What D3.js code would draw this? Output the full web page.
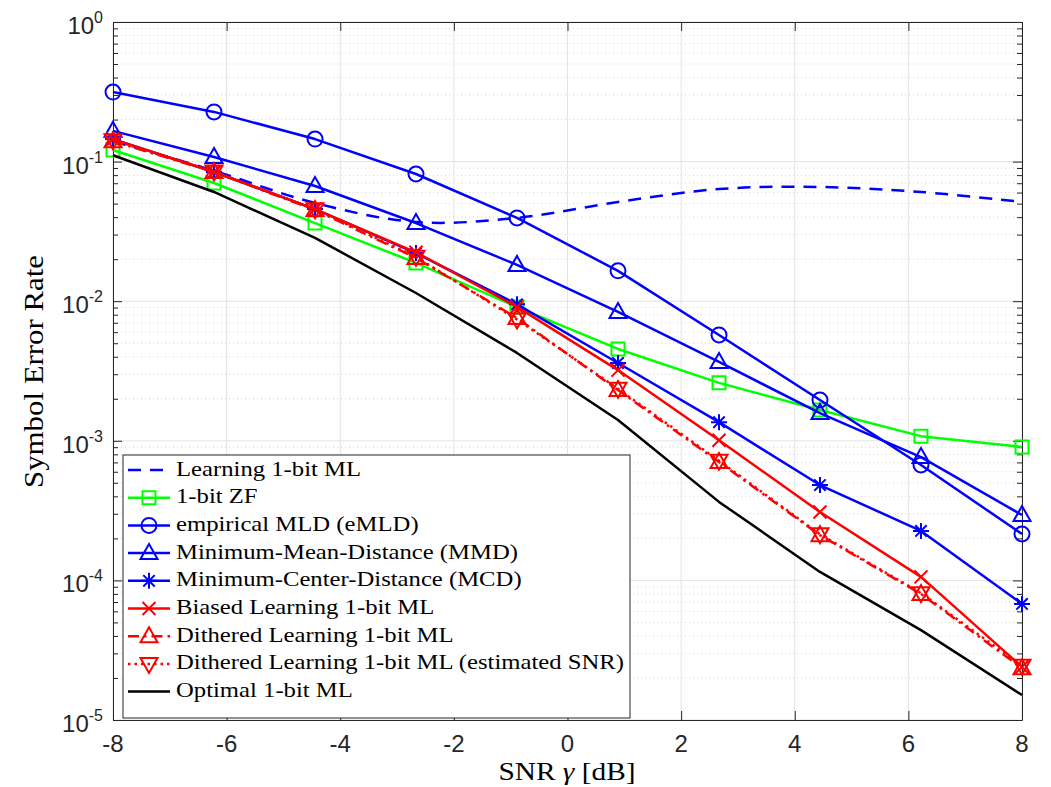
<!DOCTYPE html>
<html>
<head>
<meta charset="utf-8">
<script src="https://cdn.jsdelivr.net/npm/d3@7"></script>
<style>
  html, body { margin: 0; padding: 0; background: #fff; }
  svg { display: block; }
</style>
</head>
<body>
<div id="chart"></div>
<script>
// Data
const snrDb = [-8, -6.222, -4.444, -2.667, -0.889, 0.889, 2.667, 4.444, 6.222, 8];

const learningML  = [0.140, 0.086, 0.0505, 0.0369, 0.0395, 0.0514, 0.0636, 0.0658, 0.0606, 0.0514];
const zf          = [0.121, 0.0703, 0.0363, 0.0188, 0.00908, 0.00455, 0.00260, 0.00166, 0.00108, 0.000903];
const emld        = [0.315, 0.227, 0.145, 0.0815, 0.0395, 0.0165, 0.00573, 0.00196, 0.000671, 0.000215];
const mmd         = [0.166, 0.108, 0.0669, 0.0363, 0.0182, 0.00837, 0.00367, 0.00158, 0.000765, 0.000294];
const mcd         = [0.145, 0.0843, 0.0457, 0.0221, 0.00950, 0.00361, 0.00136, 0.000482, 0.000226, 0.0000678];
const biased      = [0.145, 0.0843, 0.0457, 0.0224, 0.0091, 0.00321, 0.00101, 0.000309, 0.000106, 0.0000240];
const dithered    = [0.140, 0.0843, 0.0450, 0.0204, 0.00758, 0.00231, 0.000705, 0.000211, 0.0000800, 0.0000235];
const ditheredEst = [0.142, 0.0850, 0.0455, 0.0208, 0.00740, 0.00236, 0.000720, 0.000214, 0.0000810, 0.0000245];
const optimal     = [0.111, 0.0606, 0.0284, 0.01145, 0.00426, 0.00141, 0.000365, 0.000115, 0.0000440, 0.0000151];

const xTicks = [-8, -6, -4, -2, 0, 2, 4, 6, 8];
const yTicks = [1e-5, 1e-4, 1e-3, 1e-2, 1e-1, 1];

const series = [
  { name: 'Learning 1-bit ML', values: learningML, color: '#0000ff', dash: '13,9', marker: null, smooth: true },
  { name: '1-bit ZF', values: zf, color: '#00ff00', dash: null, marker: 'square' },
  { name: 'empirical MLD (eMLD)', values: emld, color: '#0000ff', dash: null, marker: 'circle' },
  { name: 'Minimum-Mean-Distance (MMD)', values: mmd, color: '#0000ff', dash: null, marker: 'triUp' },
  { name: 'Minimum-Center-Distance (MCD)', values: mcd, color: '#0000ff', dash: null, marker: 'star' },
  { name: 'Biased Learning 1-bit ML', values: biased, color: '#ff0000', dash: null, marker: 'cross' },
  { name: 'Dithered Learning 1-bit ML', values: dithered, color: '#ff0000', dash: '11,5,2.5,5', marker: 'triUp' },
  { name: 'Dithered Learning 1-bit ML (estimated SNR)', values: ditheredEst, color: '#ff0000', dash: '2.5,4', marker: 'triDown' },
  { name: 'Optimal 1-bit ML', values: optimal, color: '#000000', dash: null, marker: null }
];

// Layout
const W = 1051, H = 787;
const PLOT = { left: 113, right: 1022, top: 22, bottom: 720 };
const AXIS_COLOR = '#262626';
const SANS = '"Liberation Sans", Arial, Helvetica, sans-serif';
const SERIF = '"Liberation Serif", "Times New Roman", serif';

const svg = d3.select('#chart').append('svg')
  .attr('width', W)
  .attr('height', H);

const x = d3.scaleLinear().domain([-8, 8]).range([PLOT.left, PLOT.right]);
const y = d3.scaleLog().domain([1e-5, 1]).range([PLOT.bottom, PLOT.top]);

// Minor tick values (2..9 per decade)
const minorTicks = [];
for (let e = -5; e < 0; e++) {
  for (let m = 2; m <= 9; m++) minorTicks.push(m * Math.pow(10, e));
}

// Grid
const grid = svg.append('g');
grid.selectAll('.ymin')
  .data(minorTicks)
  .enter().append('line')
  .attr('x1', PLOT.left).attr('x2', PLOT.right)
  .attr('y1', d => y(d)).attr('y2', d => y(d))
  .attr('stroke', '#c8c8c8')
  .attr('stroke-width', 0.8)
  .attr('stroke-dasharray', '1,3');
grid.selectAll('.xmaj')
  .data(xTicks)
  .enter().append('line')
  .attr('x1', d => x(d)).attr('x2', d => x(d))
  .attr('y1', PLOT.top).attr('y2', PLOT.bottom)
  .attr('stroke', '#e3e3e3')
  .attr('stroke-width', 1);
grid.selectAll('.ymaj')
  .data(yTicks)
  .enter().append('line')
  .attr('x1', PLOT.left).attr('x2', PLOT.right)
  .attr('y1', d => y(d)).attr('y2', d => y(d))
  .attr('stroke', '#e3e3e3')
  .attr('stroke-width', 1);

// Axes: d3 axes with inward ticks on all four sides
const fmtNone = () => '';
const axB = svg.append('g').attr('transform', `translate(0,${PLOT.bottom})`)
  .call(d3.axisBottom(x).tickValues(xTicks).tickSizeInner(-9).tickSizeOuter(0).tickFormat(fmtNone));
const axT = svg.append('g').attr('transform', `translate(0,${PLOT.top})`)
  .call(d3.axisTop(x).tickValues(xTicks).tickSizeInner(-9).tickSizeOuter(0).tickFormat(fmtNone));
const axL = svg.append('g').attr('transform', `translate(${PLOT.left},0)`)
  .call(d3.axisLeft(y).tickValues(yTicks).tickSizeInner(-9).tickSizeOuter(0).tickFormat(fmtNone));
const axR = svg.append('g').attr('transform', `translate(${PLOT.right},0)`)
  .call(d3.axisRight(y).tickValues(yTicks).tickSizeInner(-9).tickSizeOuter(0).tickFormat(fmtNone));
const axLm = svg.append('g').attr('transform', `translate(${PLOT.left},0)`)
  .call(d3.axisLeft(y).tickValues(minorTicks).tickSizeInner(-5).tickSizeOuter(0).tickFormat(fmtNone));
const axRm = svg.append('g').attr('transform', `translate(${PLOT.right},0)`)
  .call(d3.axisRight(y).tickValues(minorTicks).tickSizeInner(-5).tickSizeOuter(0).tickFormat(fmtNone));

[axB, axT, axL, axR, axLm, axRm].forEach(a => {
  a.selectAll('path').attr('stroke', AXIS_COLOR).attr('stroke-width', 1);
  a.selectAll('line').attr('stroke', AXIS_COLOR).attr('stroke-width', 1);
});
axLm.select('path').remove();
axRm.select('path').remove();

// Tick labels
svg.selectAll('.xlab')
  .data(xTicks)
  .enter().append('text')
  .attr('x', d => x(d))
  .attr('y', 752)
  .attr('text-anchor', 'middle')
  .attr('font-family', SANS)
  .attr('font-size', 24)
  .attr('fill', AXIS_COLOR)
  .text(d => d);

const ylab = svg.selectAll('.ylab')
  .data(yTicks)
  .enter().append('text')
  .attr('x', PLOT.left - 10)
  .attr('y', d => y(d) + 12)
  .attr('text-anchor', 'end')
  .attr('font-family', SANS)
  .attr('font-size', 24)
  .attr('fill', AXIS_COLOR);
ylab.append('tspan').text('10');
ylab.append('tspan')
  .attr('dy', -11)
  .attr('font-size', 16)
  .text(d => Math.round(Math.log10(d)));

// Axis titles
const xTitle = svg.append('text')
  .attr('x', 567)
  .attr('y', 780)
  .attr('text-anchor', 'middle')
  .attr('font-family', SERIF)
  .attr('font-size', 26)
  .attr('textLength', 137)
  .attr('lengthAdjust', 'spacingAndGlyphs')
  .attr('fill', '#000');
xTitle.append('tspan').text('SNR ');
xTitle.append('tspan').attr('font-style', 'italic').text('γ');
xTitle.append('tspan').text(' [dB]');

svg.append('text')
  .attr('transform', 'translate(43,371.5) rotate(-90)')
  .attr('text-anchor', 'middle')
  .attr('font-family', SERIF)
  .attr('font-size', 27)
  .attr('textLength', 233)
  .attr('lengthAdjust', 'spacingAndGlyphs')
  .attr('fill', '#000')
  .text('Symbol Error Rate');

// Marker shapes
function markerPath(type) {
  switch (type) {
    case 'circle': return 'M7.5,0A7.5,7.5 0 1,1 -7.5,0A7.5,7.5 0 1,1 7.5,0Z';
    case 'square': return 'M-6.5,-6.5H6.5V6.5H-6.5Z';
    case 'triUp': return 'M0,-9L8.5,6L-8.5,6Z';
    case 'triDown': return 'M0,9L8.5,-6L-8.5,-6Z';
    case 'star': return 'M0,-8V8M-8,0H8M-5.7,-5.7L5.7,5.7M-5.7,5.7L5.7,-5.7';
    case 'cross': return 'M-6.5,-6.5L6.5,6.5M-6.5,6.5L6.5,-6.5';
  }
  return '';
}

// Series
const plot = svg.append('g');
series.forEach(s => {
  const pts = snrDb.map((v, i) => [v, s.values[i]]);
  const line = d3.line()
    .x(d => x(d[0]))
    .y(d => y(d[1]))
    .curve(s.smooth ? d3.curveCatmullRom : d3.curveLinear);
  plot.append('path')
    .datum(pts)
    .attr('d', line)
    .attr('fill', 'none')
    .attr('stroke', s.color)
    .attr('stroke-width', 2.5)
    .attr('stroke-dasharray', s.dash)
    .attr('stroke-linejoin', 'round');
  if (s.marker) {
    plot.selectAll(null)
      .data(pts)
      .enter().append('path')
      .attr('transform', d => `translate(${x(d[0])},${y(d[1])})`)
      .attr('d', markerPath(s.marker))
      .attr('fill', 'none')
      .attr('stroke', s.color)
      .attr('stroke-width', 2);
  }
});

// Legend
const LEG = { x: 123, y: 455, w: 507, h: 263, row0: 470, rowH: 27.7 };
const legend = svg.append('g');
legend.append('rect')
  .attr('x', LEG.x).attr('y', LEG.y)
  .attr('width', LEG.w).attr('height', LEG.h)
  .attr('fill', '#fff')
  .attr('stroke', AXIS_COLOR)
  .attr('stroke-width', 1);

const rows = legend.selectAll('.row')
  .data(series)
  .enter().append('g')
  .attr('transform', (d, i) => `translate(0,${LEG.row0 + i * LEG.rowH})`);
rows.append('line')
  .attr('x1', 128).attr('x2', 170)
  .attr('y1', 0).attr('y2', 0)
  .attr('stroke', d => d.color)
  .attr('stroke-width', 2.5)
  .attr('stroke-dasharray', d => d.dash);
rows.filter(d => d.marker)
  .append('path')
  .attr('transform', 'translate(149,0)')
  .attr('d', d => markerPath(d.marker))
  .attr('fill', 'none')
  .attr('stroke', d => d.color)
  .attr('stroke-width', 2);
const legText = rows.append('text')
  .attr('x', 176)
  .attr('y', 5.5)
  .attr('font-family', SERIF)
  .attr('font-size', 21)
  .attr('fill', '#000')
  .text(d => d.name);

// Stretch legend text so the longest entry spans the box like the original
const widths = legText.nodes().map(n => n.getComputedTextLength());
const k = 448 / d3.max(widths);
legText.each(function(d, i) {
  d3.select(this)
    .attr('textLength', widths[i] * k)
    .attr('lengthAdjust', 'spacingAndGlyphs');
});
</script>
</body>
</html>
